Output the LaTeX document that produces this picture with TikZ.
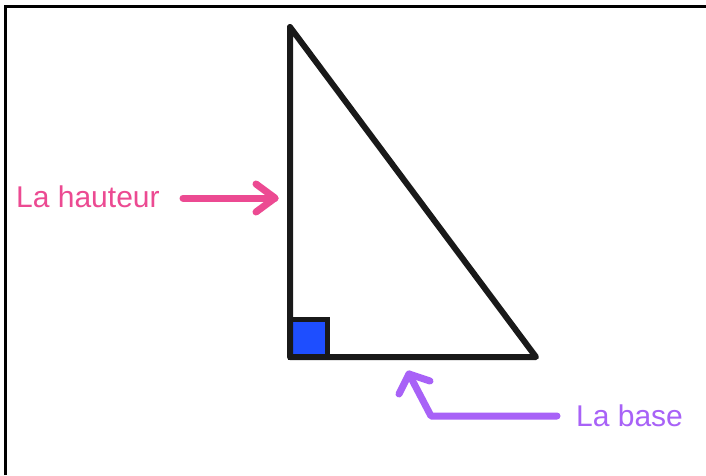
\documentclass[tikz,border=0pt]{standalone}
\usepackage{fontspec}
\setmainfont{Liberation Sans}
\definecolor{pinkc}{RGB}{236,74,146}
\definecolor{purplec}{RGB}{168,98,247}
\definecolor{bluec}{RGB}{30,78,255}
\definecolor{darkc}{RGB}{25,25,25}
\begin{document}
\begin{tikzpicture}[x=1pt,y=-1pt,
  label text/.style={inner sep=0pt,anchor=base west,font=\fontsize{30}{36}\selectfont},
  pinkarrow/.style={draw=pinkc,line width=7pt,line cap=round,line join=round},
  purplearrow/.style={draw=purplec,line width=7pt,line cap=round,line join=round},
  triline/.style={draw=darkc,line width=6pt,line join=round},
  frameline/.style={draw=black,line width=3pt}]
\useasboundingbox (0,0) rectangle (706,475);
\fill[white] (0,0) rectangle (706,475);
% frame (top and left)
\coordinate (fl) at (5,475);
\coordinate (fc) at (5,6);
\coordinate (fr) at (706,6);
\draw[frameline] (fl) -- (fc) -- (fr);
% right-angle mark
\coordinate (sqa) at (290,357);
\coordinate (sqb) at (327.5,319.5);
\draw[fill=bluec,draw=darkc,line width=5pt] (sqa) rectangle (sqb);
% triangle
\coordinate (A) at (290,27);
\coordinate (B) at (290,357);
\coordinate (C) at (536,357);
\draw[triline] (A) -- (B) -- (C) -- cycle;
% labels
\node[label text,text=pinkc] (ht) at (16,207) {La hauteur};
\node[label text,text=purplec] (bs) at (576,426) {La base};
% pink arrow
\coordinate (p0) at (183,198);
\coordinate (ptip) at (275,198);
\coordinate (pa1) at (256,184);
\coordinate (pa2) at (256,212);
\draw[pinkarrow] (p0) -- (ptip);
\draw[pinkarrow] (pa1) -- (ptip) -- (pa2);
% purple arrow
\coordinate (q0) at (557,416);
\coordinate (qc) at (431,416);
\coordinate (qtip) at (409,374);
\coordinate (qa1) at (399,394);
\coordinate (qa2) at (430,381);
\draw[purplearrow] (q0) -- (qc) -- (qtip);
\draw[purplearrow] (qa1) -- (qtip) -- (qa2);
\end{tikzpicture}
\end{document}
